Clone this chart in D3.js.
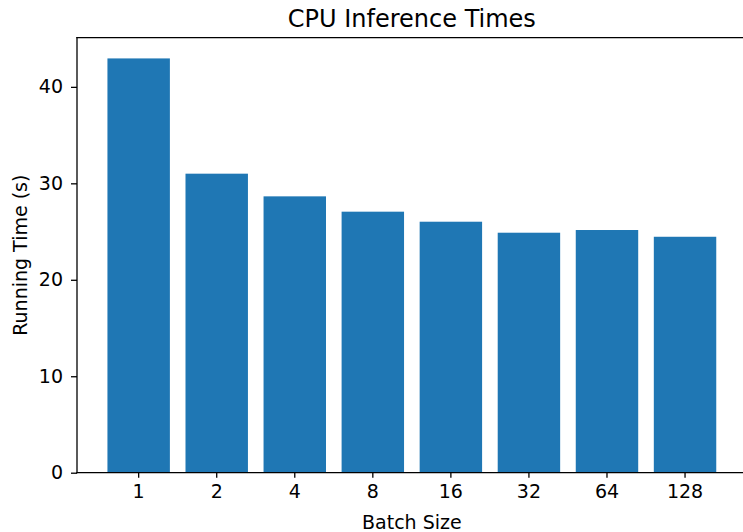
<!DOCTYPE html>
<html>
<head>
<meta charset="utf-8">
<script src="https://cdn.jsdelivr.net/npm/d3@7"></script>
<style>
  html, body { margin: 0; padding: 0; background: #fff; }
  svg { display: block; }
  text { font-family: "DejaVu Sans", sans-serif; fill: #000; }
</style>
</head>
<body>
<svg id="chart" width="743" height="532"></svg>
<script>
const categories = ["1", "2", "4", "8", "16", "32", "64", "128"];
const runningTimes = [42.95, 31.0, 28.65, 27.06, 26.02, 24.88, 25.16, 24.46];
const yTicks = [0, 10, 20, 30, 40];
const titleText = "CPU Inference Times";
const xLabel = "Batch Size";
const yLabel = "Running Time (s)";

const W = 743, H = 532;
const pLeft = 77, pRight = 746.7, pTop = 37.7, pBottom = 472.7;

const svg = d3.select("#chart");

const x = d3.scaleBand()
  .domain(categories)
  .range([pLeft, pRight])
  .paddingInner(0.2)
  .paddingOuter(0.39);

const y = d3.scaleLinear()
  .domain([0, d3.max(runningTimes) * 1.05])
  .range([pBottom, pTop]);

// bars
svg.append("g")
  .selectAll("rect")
  .data(runningTimes)
  .join("rect")
  .attr("x", (d, i) => x(categories[i]))
  .attr("width", x.bandwidth())
  .attr("y", d => y(d))
  .attr("height", d => y(0) - y(d))
  .attr("fill", "#1f77b4");

// spines
const spine = svg.append("g").attr("stroke", "#000").attr("stroke-width", 1.3).attr("fill", "none");
spine.append("line").attr("x1", pLeft).attr("x2", pLeft).attr("y1", pTop).attr("y2", pBottom).attr("stroke-linecap", "square");
spine.append("line").attr("x1", pLeft).attr("x2", pRight).attr("y1", pBottom).attr("y2", pBottom).attr("stroke-linecap", "square");
spine.append("line").attr("x1", pLeft).attr("x2", pRight).attr("y1", pTop).attr("y2", pTop).attr("stroke-linecap", "square");
spine.append("line").attr("x1", pRight).attr("x2", pRight).attr("y1", pTop).attr("y2", pBottom);

// x axis
const xAxis = d3.axisBottom(x).tickSize(5).tickPadding(7).tickSizeOuter(0);
const gx = svg.append("g").attr("transform", `translate(0,${pBottom})`).call(xAxis);
gx.select(".domain").remove();
gx.selectAll(".tick line").attr("stroke", "#000").attr("stroke-width", 1.3);
gx.selectAll(".tick text").style("font-family", "DejaVu Sans").style("font-size", "19px").attr("fill", "#000");

// y axis
const yAxis = d3.axisLeft(y).tickValues(yTicks).tickSize(6).tickPadding(8).tickFormat(d3.format("d"));
const gy = svg.append("g").attr("transform", `translate(${pLeft},0)`).call(yAxis);
gy.select(".domain").remove();
gy.selectAll(".tick line").attr("stroke", "#000").attr("stroke-width", 1.3);
gy.selectAll(".tick text").style("font-family", "DejaVu Sans").style("font-size", "19px").attr("fill", "#000");

// title
svg.append("text")
  .attr("x", (pLeft + pRight) / 2)
  .attr("y", 26.5)
  .attr("text-anchor", "middle")
  .style("font-size", "24px")
  .text(titleText);

// x label
svg.append("text")
  .attr("x", (pLeft + pRight) / 2)
  .attr("y", 529)
  .attr("text-anchor", "middle")
  .style("font-size", "19px")
  .text(xLabel);

// y label
svg.append("text")
  .attr("transform", `translate(27,${(pTop + pBottom) / 2}) rotate(-90)`)
  .attr("text-anchor", "middle")
  .style("font-size", "19px")
  .text(yLabel);
</script>
</body>
</html>
